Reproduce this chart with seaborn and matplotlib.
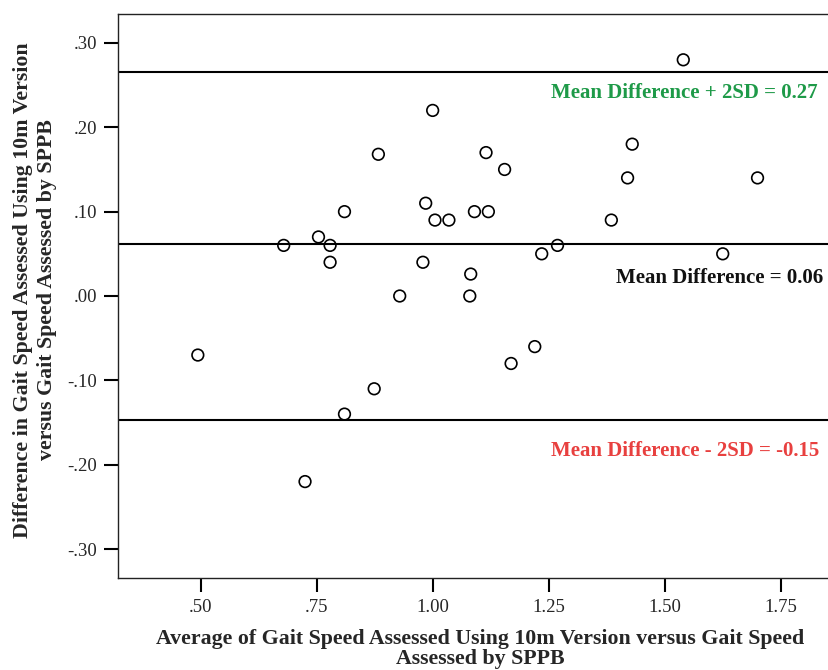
import matplotlib
matplotlib.use("Agg")
import matplotlib.pyplot as plt
import seaborn as sns
import pandas as pd

# average of the two gait speed measures (m/s)
avg_speed = [1.54, 1.00, 0.883, 1.115, 1.43, 1.155, 1.42, 1.70,
             0.985, 0.81, 1.09, 1.12, 1.005, 1.035, 1.385, 0.754,
             0.679, 0.779, 1.269, 1.235, 1.625, 0.779, 0.979, 1.082,
             0.929, 1.08, 0.494, 1.22, 1.169, 0.874, 0.81, 0.725]
# difference between the two measures (m/s)
diff_speed = [0.28, 0.22, 0.168, 0.17, 0.18, 0.15, 0.14, 0.14,
              0.11, 0.10, 0.10, 0.10, 0.09, 0.09, 0.09, 0.07,
              0.06, 0.06, 0.06, 0.05, 0.05, 0.04, 0.04, 0.026,
              0.0, 0.0, -0.07, -0.06, -0.08, -0.11, -0.14, -0.22]

mean_diff = 0.062
upper_loa = 0.266
lower_loa = -0.147
line_labels = ["Mean Difference + 2SD = 0.27",
               "Mean Difference = 0.06",
               "Mean Difference - 2SD = -0.15"]
line_colors = ["#1e9a48", "#111111", "#e8403f"]

x_ticks = [0.50, 0.75, 1.00, 1.25, 1.50, 1.75]
x_tick_labels = [".50", ".75", "1.00", "1.25", "1.50", "1.75"]
y_ticks = [0.30, 0.20, 0.10, 0.00, -0.10, -0.20, -0.30]
y_tick_labels = [".30", ".20", ".10", ".00", "-.10", "-.20", "-.30"]

df = pd.DataFrame({"avg": avg_speed, "diff": diff_speed})

sns.set_style("ticks")
plt.rcParams["font.family"] = ["Liberation Serif", "DejaVu Serif"]

fig = plt.figure(figsize=(8.29, 6.70), dpi=100)
W, H = 829, 670
ax = fig.add_axes([118 / W, (H - 578) / H, (842 - 118) / W, (578 - 14) / H])

for y in [upper_loa, mean_diff, lower_loa]:
    ax.axhline(y, color="black", linewidth=1.5, zorder=1)

sns.scatterplot(data=df, x="avg", y="diff", ax=ax, s=70, marker="o",
                facecolor="none", edgecolor="black", linewidth=1.2, zorder=3)

ax.set_xlim(0.322, 1.882)
ax.set_ylim(-0.3343, 0.3343)
ax.set_xticks(x_ticks)
ax.set_xticklabels(x_tick_labels)
ax.set_yticks(y_ticks)
ax.set_yticklabels(y_tick_labels)
ax.tick_params(axis="both", direction="out", length=10, width=1.5,
               labelsize=13.5, pad=5, color="black")
ax.set_xlabel("")
ax.set_ylabel("")

for side in ["top", "right", "bottom", "left"]:
    ax.spines[side].set_visible(True)
    ax.spines[side].set_linewidth(1.0)
    ax.spines[side].set_color("#222222")

ax.text(1.2555, upper_loa - 0.0255, line_labels[0], color=line_colors[0],
        fontsize=15, fontweight="bold", va="center", ha="left")
ax.text(1.3955, mean_diff - 0.0405, line_labels[1], color=line_colors[1],
        fontsize=15, fontweight="bold", va="center", ha="left")
ax.text(1.2555, lower_loa - 0.0365, line_labels[2], color=line_colors[2],
        fontsize=15, fontweight="bold", va="center", ha="left")

fig.text(480 / W, 1 - 649 / H,
         "Average of Gait Speed Assessed Using 10m Version versus Gait Speed\nAssessed by SPPB",
         fontsize=15.75, fontweight="bold", linespacing=1.05,
         ha="center", va="center", multialignment="center")
fig.text(35 / W, 1 - 290 / H,
         "Difference in Gait Speed Assessed Using 10m Version\nversus Gait Speed Assessed by SPPB",
         fontsize=15.75, fontweight="bold", linespacing=1.22, rotation=90,
         ha="center", va="center", multialignment="center")

fig.savefig("out.png", dpi=100)
